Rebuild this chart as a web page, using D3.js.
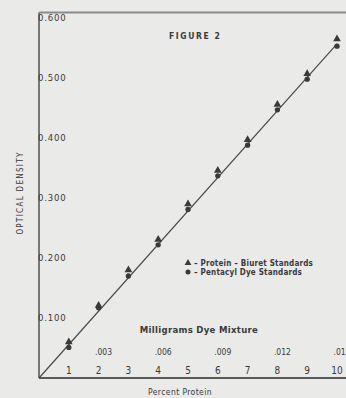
<!DOCTYPE html>
<html><head><meta charset="utf-8">
<script src="https://cdn.jsdelivr.net/npm/d3@7"></script>
<style>
html,body{margin:0;padding:0;background:#eaeae8;}
svg{display:block;}
text{fill:#3a3a3a;font-family:"Liberation Sans Narrow","DejaVu Sans Condensed","Liberation Sans",sans-serif;}
</style></head>
<body>
<script>
// data
const percentProtein = [1,2,3,4,5,6,7,8,9,10];
const biuretOD = [0.060,0.121,0.180,0.231,0.290,0.346,0.397,0.456,0.507,0.565];
const dyeOD    = [0.051,0.117,0.170,0.222,0.281,0.337,0.388,0.447,0.498,0.553];
const yTicks = [0.1,0.2,0.3,0.4,0.5,0.6];
const yTickLabels = ["0.100","0.200","0.300","0.400","0.500","0.600"];
const dyeTicks = [2,4,6,8,10];
const dyeTickLabels = [".003",".006",".009",".012",".015"];
const fitLine = [[0,0],[10,0.557]];

const W=346,H=398;
const svg=d3.select("body").append("svg").attr("width",W).attr("height",H);
svg.append("rect").attr("width",W).attr("height",H).attr("fill","#eaeae8");

const x=d3.scaleLinear().domain([0,10]).range([39,337]);
const y=d3.scaleLinear().domain([0,0.6]).range([378,18]);
const yTop=y(0.609);

const g=svg.append("g");
// frame: left axis, top border, bottom axis
g.append("line").attr("x1",x(0)).attr("x2",x(0)).attr("y1",yTop).attr("y2",y(0))
  .attr("stroke","#5a5a5a").attr("stroke-width",1.6);
g.append("line").attr("x1",x(0)).attr("x2",W).attr("y1",yTop).attr("y2",yTop)
  .attr("stroke","#8a8a8a").attr("stroke-width",2);
g.append("line").attr("x1",x(0)).attr("x2",W).attr("y1",y(0)).attr("y2",y(0))
  .attr("stroke","#5a5a5a").attr("stroke-width",2);

// y tick labels (inside, overlapping axis)
g.selectAll(".yl").data(yTicks).join("text")
  .attr("x",x(0)-1).attr("y",d=>y(d)).attr("dy","0.35em")
  .attr("font-size",9.5).attr("letter-spacing","0.8px")
  .text((d,i)=>yTickLabels[i]);

// x tick labels
g.selectAll(".xl").data(percentProtein).join("text")
  .attr("x",d=>x(d)).attr("y",y(0)-4).attr("text-anchor","middle")
  .attr("font-size",10).text(d=>d);

// dye mixture labels
g.selectAll(".dl").data(dyeTicks).join("text")
  .attr("x",d=>x(d)+5).attr("y",y(0)-23).attr("text-anchor","middle")
  .attr("font-size",8.5).text((d,i)=>dyeTickLabels[i]);

g.append("text").attr("x",199).attr("y",333).attr("text-anchor","middle")
  .attr("font-size",9.5).attr("font-weight","bold").attr("letter-spacing","0.3px")
  .text("Milligrams Dye Mixture");

g.append("text").attr("x",180).attr("y",395).attr("text-anchor","middle")
  .attr("font-size",8.5).attr("letter-spacing","0.4px")
  .text("Percent  Protein");

g.append("text").attr("transform","translate(23,193) rotate(-90)").attr("text-anchor","middle")
  .attr("font-size",8).attr("letter-spacing","1.3px")
  .attr("font-family","DejaVu Sans Condensed, sans-serif")
  .text("OPTICAL    DENSITY");

g.append("text").attr("x",169).attr("y",39)
  .attr("font-size",8.5).attr("font-weight","bold").attr("letter-spacing","1.6px")
  .attr("font-family","DejaVu Sans Mono, monospace")
  .text("FIGURE 2");

// fit line
const line=d3.line().x(d=>x(d[0])).y(d=>y(d[1]));
g.append("path").attr("d",line(fitLine)).attr("fill","none")
  .attr("stroke","#4a4a4a").attr("stroke-width",1.2);

// markers
const tri=d3.symbol().type(d3.symbolTriangle).size(26);
const circ=d3.symbol().type(d3.symbolCircle).size(22);
g.selectAll(".c").data(percentProtein).join("path")
  .attr("d",circ).attr("transform",(d,i)=>`translate(${x(d)},${y(dyeOD[i])})`)
  .attr("fill","#3a3a3a");
g.selectAll(".t").data(percentProtein).join("path")
  .attr("d",tri).attr("transform",(d,i)=>`translate(${x(d)},${y(biuretOD[i])})`)
  .attr("fill","#3a3a3a");

// legend
const lg=g.append("g");
lg.append("path").attr("d",d3.symbol().type(d3.symbolTriangle).size(20)).attr("transform","translate(188,263)").attr("fill","#3a3a3a");
lg.append("text").attr("x",194).attr("y",263).attr("dy","0.35em").attr("font-size",8)
  .attr("font-weight","bold").attr("letter-spacing","0.2px").text("– Protein – Biuret Standards");
lg.append("path").attr("d",d3.symbol().type(d3.symbolCircle).size(20)).attr("transform","translate(188,272)").attr("fill","#3a3a3a");
lg.append("text").attr("x",194).attr("y",272).attr("dy","0.35em").attr("font-size",8)
  .attr("font-weight","bold").attr("letter-spacing","0.2px").text("– Pentacyl Dye Standards");
</script>
</body></html>
